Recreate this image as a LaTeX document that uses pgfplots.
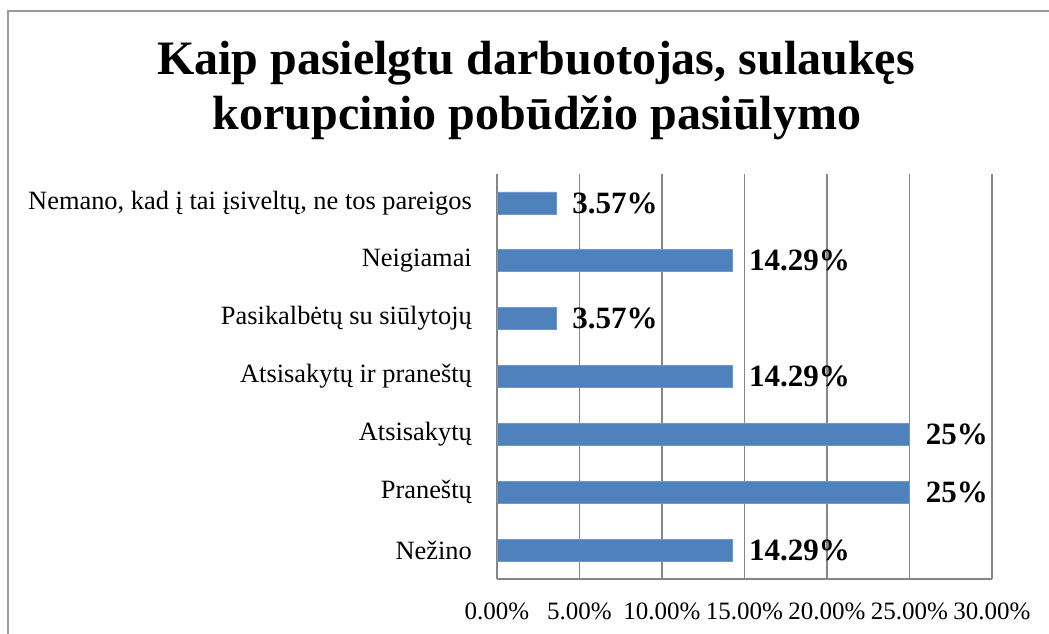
\documentclass[border=0pt]{standalone}
\usepackage{fontspec}
\setmainfont{Liberation Serif}
\usepackage{pgfplots}
\pgfplotsset{compat=1.18}
\definecolor{barblue}{HTML}{4F81BD}
\definecolor{baredge}{HTML}{6F97C9}
\definecolor{gridcol}{HTML}{868686}
\definecolor{framecol}{HTML}{9A9A9A}
\begin{document}
\begin{tikzpicture}[x=1pt,y=1pt]
\useasboundingbox (0,0) rectangle (1049,634);
\draw[framecol, line width=1.5pt] (8,0) -- (8,623) -- (1049,623);
\node[anchor=base, font=\bfseries\fontsize{48}{55}\selectfont] at (536,559) {Kaip pasielgtu darbuotojas, sulaukęs};
\node[anchor=base, font=\bfseries\fontsize{48}{55}\selectfont] at (537,504) {korupcinio pobūdžio pasiūlymo};
\begin{axis}[
  at={(497pt,55pt)}, anchor=south west,
  scale only axis, width=495pt, height=405pt,
  xbar, bar width=22pt,
  xmin=0, xmax=30, ymin=-0.5, ymax=6.5,
  clip=false,
  axis lines*=left,
  axis line style={-, draw=gridcol, line width=1.6pt},
  xmajorgrids, grid style={draw=gridcol, line width=1.6pt},
  major tick length=0pt,
  xtick={0,5,10,15,20,25,30},
  xticklabel={\pgfmathprintnumber[fixed,fixed zerofill,precision=2,assume math mode=true]{\tick}\%},
  xticklabel style={font=\fontsize{25}{30}\selectfont, anchor=base, inner sep=0pt, yshift=-40pt},
  ytick={0,1,2,3,4,5,6},
  yticklabels={Nežino, Praneštų, Atsisakytų, Atsisakytų ir praneštų, Pasikalbėtų su siūlytojų, Neigiamai, {Nemano, kad į tai įsiveltų, ne tos pareigos}},
  yticklabel style={font=\fontsize{26.4}{31}\selectfont, anchor=east, inner sep=0pt, xshift=-25pt},
  point meta=x,
  nodes near coords={\pgfmathprintnumber[fixed,precision=2,assume math mode=true]{\pgfplotspointmeta}\%},
  nodes near coords align=horizontal,
  every node near coord/.append style={font=\bfseries\fontsize{31}{36}\selectfont, anchor=west, inner sep=0pt, xshift=16pt, text=black},
]
\addplot[fill=barblue, draw=baredge, line width=0.8pt] coordinates {
  (14.29,0) (25,1) (25,2) (14.29,3) (3.57,4) (14.29,5) (3.57,6)
};
\end{axis}
\end{tikzpicture}
\end{document}
